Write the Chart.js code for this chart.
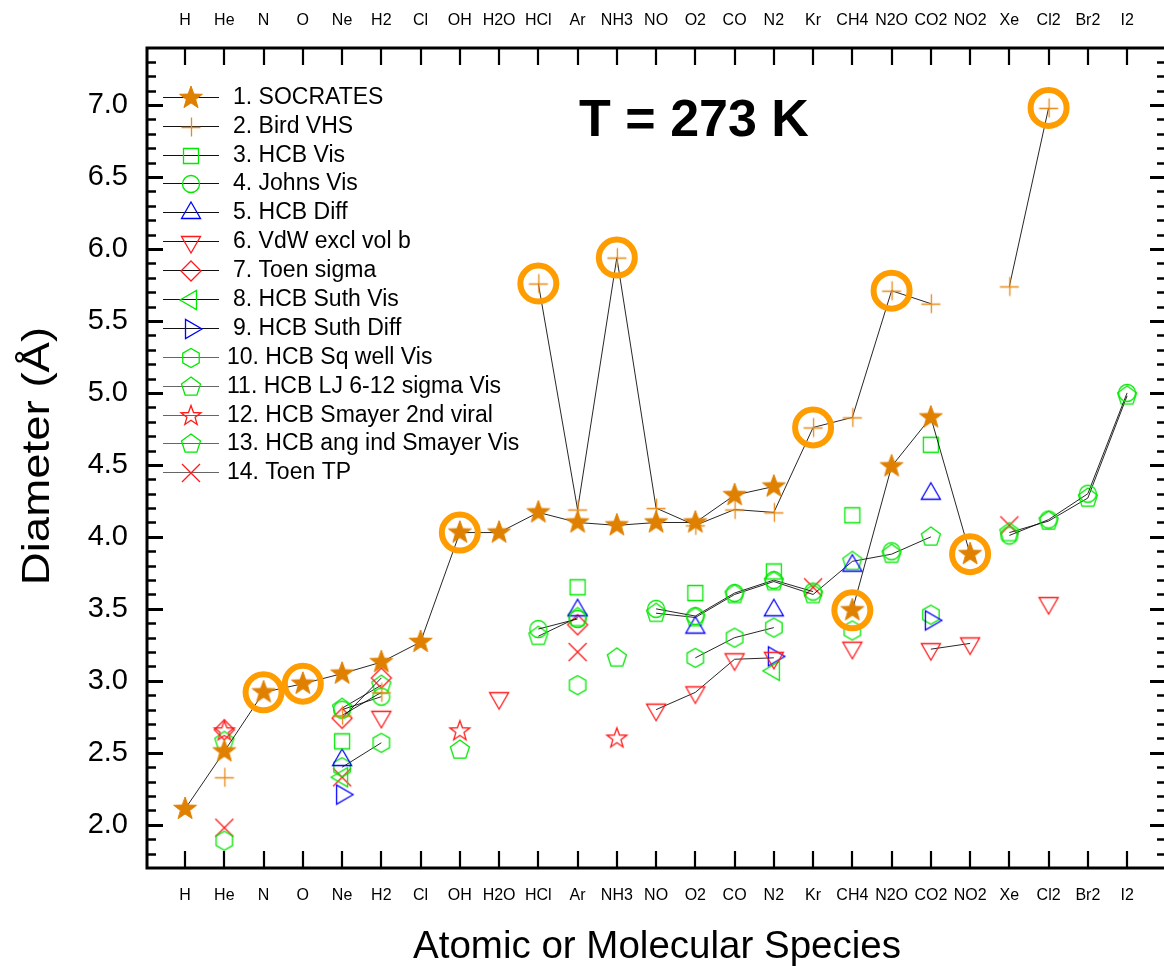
<!DOCTYPE html>
<html>
<head>
<meta charset="utf-8">
<script src="https://cdn.jsdelivr.net/npm/chart.js@4/dist/chart.umd.min.js"></script>
<style>
html,body{margin:0;padding:0;background:#fff;overflow:hidden;}
canvas{display:block;}
</style>
</head>
<body>
<canvas id="c" width="1164" height="966"></canvas>
<script>
const _ = null;
const categories = ['H','He','N','O','Ne','H2','Cl','OH','H2O','HCl','Ar','NH3','NO','O2','CO','N2','Kr','CH4','N2O','CO2','NO2','Xe','Cl2','Br2','I2'];
const yTickValues = [2.0,2.5,3.0,3.5,4.0,4.5,5.0,5.5,6.0,6.5,7.0];
//                 H    He   N    O    Ne   H2   Cl   OH   H2O  HCl  Ar   NH3  NO   O2   CO   N2   Kr   CH4  N2O  CO2  NO2  Xe   Cl2  Br2  I2
const socrates   = [2.11,2.51,2.92,2.98,3.05,3.13,3.27,4.03,4.03,4.17,4.10,4.08,4.10,4.10,4.29,4.35,_,   3.49,4.49,4.83,3.88,_,   _,   _,   _   ];
const birdVHS    = [_,   2.33,_,   _,   2.76,2.92,_,   _,   _,   5.76,4.19,5.94,4.20,4.08,4.19,4.17,4.76,4.83,5.71,5.62,_,   5.74,6.98,_,   _   ];
const hcbVis     = [_,   _,   _,   _,   2.58,_,   _,   _,   _,   _,   3.65,_,   _,   3.61,_,   3.76,_,   4.15,_,   4.64,_,   _,   _,   _,   _   ];
const johnsVis   = [_,   _,   _,   _,   2.80,2.89,_,   _,   _,   3.36,3.43,_,   3.50,3.45,3.61,3.70,3.62,_,   3.90,_,   _,   4.01,4.12,4.30,5.00];
const hcbDiff    = [_,   _,   _,   _,   2.45,_,   _,   _,   _,   _,   3.49,_,   _,   3.37,_,   3.49,_,   3.80,_,   4.30,_,   _,   _,   _,   _   ];
const vdwExclB   = [_,   _,   _,   _,   _,   2.75,_,   _,   2.88,_,   _,   _,   2.80,2.92,3.15,3.16,_,   3.23,_,   3.22,3.26,_,   3.54,_,   _   ];
const toenSigma  = [_,   2.66,_,   _,   2.74,3.02,_,   _,   _,   _,   3.39,_,   _,   _,   _,   _,   _,   _,   _,   _,   _,   _,   _,   _,   _   ];
const hcbSuthVis = [_,   _,   _,   _,   2.33,_,   _,   _,   _,   _,   _,   _,   _,   _,   _,   3.07,_,   _,   _,   _,   _,   _,   _,   _,   _   ];
const hcbSuthDif = [_,   _,   _,   _,   2.21,_,   _,   _,   _,   _,   _,   _,   _,   _,   _,   3.17,_,   _,   _,   3.42,_,   _,   _,   _,   _   ];
const hcbSqWell  = [_,   1.89,_,   _,   2.40,2.57,_,   _,   _,   _,   2.97,_,   _,   3.16,3.30,3.37,_,   3.35,_,   3.46,_,   _,   _,   _,   _   ];
const hcbLJsigma = [_,   2.58,_,   _,   2.81,2.97,_,   2.52,_,   _,   _,   3.16,_,   _,   _,   _,   _,   _,   _,   _,   _,   _,   _,   _,   _   ];
const hcbSmayer2 = [_,   2.65,_,   _,   _,   _,   _,   2.65,_,   _,   _,   2.60,_,   _,   _,   _,   _,   _,   _,   _,   _,   _,   _,   _,   _   ];
const hcbAngInd  = [_,   _,   _,   _,   _,   _,   _,   _,   _,   3.31,3.44,_,   3.47,3.44,3.60,3.69,3.60,3.83,3.88,4.00,_,   4.03,4.11,4.27,4.98];
const toenTP     = [_,   1.98,_,   _,   2.33,_,   _,   _,   _,   _,   3.20,_,   _,   _,   _,   _,   3.65,_,   _,   _,   _,   4.08,_,   _,   _   ];
const highlighted= [_,   _,   2.92,2.98,_,   _,   _,   4.03,_,   5.76,_,   5.94,_,   _,   _,   _,   4.76,3.49,5.71,_,   3.88,_,   6.98,_,   _   ];

const seriesNames = ['1. SOCRATES','2. Bird VHS','3. HCB Vis','4. Johns Vis','5. HCB Diff','6. VdW excl vol b','7. Toen sigma','8. HCB Suth Vis','9. HCB Suth Diff','10. HCB Sq well Vis','11. HCB LJ 6-12 sigma Vis','12. HCB Smayer 2nd viral','13. HCB ang ind Smayer Vis','14. Toen TP'];
const seriesData = [socrates,birdVHS,hcbVis,johnsVis,hcbDiff,vdwExclB,toenSigma,hcbSuthVis,hcbSuthDif,hcbSqWell,hcbLJsigma,hcbSmayer2,hcbAngInd,toenTP];

const GREEN='#00E800', RED='#FF1A1A', BLUE='#0000FF', ORANGE='#DF8000', ORANGE2='#E88A18';
const FONT='"Liberation Sans", Arial, sans-serif';

function mk(draw){
  const c=document.createElement('canvas'); c.width=28; c.height=28;
  const g=c.getContext('2d'); g.translate(14,14); draw(g); return c;
}
function poly(g,n,R,rot){
  g.beginPath();
  for(let i=0;i<n;i++){const a=rot+i*2*Math.PI/n; const px=R*Math.cos(a), py=R*Math.sin(a); i?g.lineTo(px,py):g.moveTo(px,py);}
  g.closePath();
}
function starPath(g,R,r){
  g.beginPath();
  for(let i=0;i<10;i++){const a=-Math.PI/2+i*Math.PI/5; const rr=i%2?r:R; const px=rr*Math.cos(a), py=rr*Math.sin(a); i?g.lineTo(px,py):g.moveTo(px,py);}
  g.closePath();
}
const strokeIt=(g,col,w)=>{g.strokeStyle=col; g.lineWidth=w||1.3; g.stroke();};
const markers = [
  mk(g=>{starPath(g,12,4.9); g.fillStyle=ORANGE; g.fill(); strokeIt(g,ORANGE,1);}),
  mk(g=>{g.beginPath(); g.moveTo(-9.5,0.5); g.lineTo(9.5,0.5); g.moveTo(0.5,-9.5); g.lineTo(0.5,9.5); strokeIt(g,ORANGE2,1.3);}),
  mk(g=>{g.beginPath(); g.rect(-7.5,-7.5,15,15); strokeIt(g,GREEN);}),
  mk(g=>{g.beginPath(); g.arc(0,0,8.5,0,2*Math.PI); strokeIt(g,GREEN);}),
  mk(g=>{poly(g,3,11,-Math.PI/2); strokeIt(g,BLUE);}),
  mk(g=>{poly(g,3,11,Math.PI/2); strokeIt(g,RED);}),
  mk(g=>{poly(g,4,10,-Math.PI/2); strokeIt(g,RED);}),
  mk(g=>{poly(g,3,11,Math.PI); strokeIt(g,GREEN);}),
  mk(g=>{poly(g,3,11,0); strokeIt(g,BLUE);}),
  mk(g=>{poly(g,6,9.5,-Math.PI/2); strokeIt(g,GREEN);}),
  mk(g=>{poly(g,5,10,-Math.PI/2); strokeIt(g,GREEN);}),
  mk(g=>{starPath(g,10.5,4.3); strokeIt(g,RED);}),
  mk(g=>{poly(g,5,10,-Math.PI/2); strokeIt(g,GREEN);}),
  mk(g=>{g.beginPath(); g.moveTo(-9,-9); g.lineTo(9,9); g.moveTo(9,-9); g.lineTo(-9,9); strokeIt(g,RED,1.3);})
];

const toPts = arr => arr.map((v,i)=>({x:i,y:v}));
const datasets = seriesData.map((arr,k)=>({
  label: seriesNames[k],
  data: toPts(arr),
  borderColor:'rgba(0,0,0,0.85)', borderWidth:1,
  pointStyle: markers[k], pointRadius:10, pointHoverRadius:10,
  spanGaps:false, order:k
}));
datasets.push({
  label:'highlight', data: toPts(highlighted), showLine:false,
  pointStyle:'circle', pointRadius:18, pointBorderWidth:6, pointBorderColor:'#FF9C00',
  pointBackgroundColor:'rgba(0,0,0,0)', order:-1
});

const decor = {
  id:'decor',
  afterDraw(chart){
    const {ctx, chartArea:a, scales} = chart;
    const y=scales.y, x=scales.x;
    ctx.save();
    ctx.strokeStyle='#000';
    ctx.lineWidth=3;
    ctx.beginPath();
    ctx.moveTo(a.left-1.5,a.top); ctx.lineTo(a.right+3,a.top);
    ctx.moveTo(a.left,a.top); ctx.lineTo(a.left,a.bottom);
    ctx.moveTo(a.left-1.5,a.bottom); ctx.lineTo(a.right+3,a.bottom);
    ctx.stroke();
    for(let k=18;k<=73;k++){
      const py=Math.round(y.getPixelForValue(k/10))+0.5;
      const major=k%5===0;
      ctx.lineWidth=major?3:2.5;
      ctx.beginPath();
      ctx.moveTo(a.left,py); ctx.lineTo(a.left+(major?16:9),py);
      ctx.moveTo(a.right,py); ctx.lineTo(a.right-(major?14:7),py);
      ctx.stroke();
    }
    ctx.lineWidth=2.2;
    categories.forEach((c,i)=>{
      const px=Math.round(x.getPixelForValue(i));
      ctx.beginPath();
      ctx.moveTo(px,a.top); ctx.lineTo(px,a.top+17);
      ctx.moveTo(px,a.bottom); ctx.lineTo(px,a.bottom-17);
      ctx.stroke();
    });
    // titles
    ctx.fillStyle='#000';
    ctx.textAlign='center'; ctx.textBaseline='alphabetic';
    ctx.font='38.5px '+FONT;
    ctx.fillText('Atomic or Molecular Species',657,958);
    ctx.save(); ctx.translate(49,456); ctx.rotate(-Math.PI/2); ctx.scale(1.2,1);
    ctx.font='38px '+FONT;
    ctx.fillText('Diameter (Å)',0,0); ctx.restore();
    ctx.font='bold 52px '+FONT;
    ctx.fillText('T = 273 K',694,136);
    // legend
    ctx.font='23px '+FONT; ctx.textAlign='left'; ctx.textBaseline='middle';
    seriesNames.forEach((n,i)=>{
      const ly=Math.round(96.7+i*28.9);
      ctx.strokeStyle= i<9 ? '#111' : '#666'; ctx.lineWidth=1.2;
      ctx.beginPath(); ctx.moveTo(163,ly+0.5); ctx.lineTo(219,ly+0.5); ctx.stroke();
      const m=markers[i];
      ctx.drawImage(m,191-m.width/2,ly-m.height/2+1);
      ctx.fillStyle='#000';
      ctx.fillText(n, i<9?233:227, ly+1);
    });
    ctx.restore();
  }
};

const catTicks = scale => { scale.ticks = categories.map((c,i)=>({value:i})); };
const fitH = h => s => { s.height=h; s.paddingLeft=0; s.paddingRight=0; };

new Chart(document.getElementById('c'), {
  type:'line',
  data:{datasets},
  options:{
    responsive:false, animation:false, devicePixelRatio:1,
    layout:{autoPadding:false, padding:{left:0,right:0,top:0,bottom:0}},
    plugins:{legend:{display:false}, tooltip:{enabled:false}},
    scales:{
      x:{type:'linear', position:'bottom', min:-0.97, max:24.94,
         afterBuildTicks:catTicks,
         afterFit:fitH(98),
         grid:{display:false, drawTicks:false}, border:{display:false},
         ticks:{autoSkip:false, maxRotation:0, padding:18, color:'#000',
                font:{family:FONT,size:16}, callback:v=>categories[v]}},
      x2:{type:'linear', position:'top', min:-0.97, max:24.94,
         afterBuildTicks:catTicks,
         afterFit:fitH(48),
         grid:{display:false, drawTicks:false}, border:{display:false},
         ticks:{autoSkip:false, maxRotation:0, padding:18, color:'#000',
                font:{family:FONT,size:16}, callback:v=>categories[v]}},
      y:{type:'linear', position:'left', min:1.70, max:7.396,
         afterBuildTicks:s=>{s.ticks=yTickValues.map(v=>({value:v}));},
         afterFit:s=>{s.width=147; s.paddingTop=0; s.paddingBottom=0;},
         grid:{display:false, drawTicks:false}, border:{display:false},
         ticks:{padding:19, color:'#000', font:{family:FONT,size:29},
                callback:v=>Number(v).toFixed(1)}}
    }
  },
  plugins:[decor]
});
</script>
</body>
</html>
